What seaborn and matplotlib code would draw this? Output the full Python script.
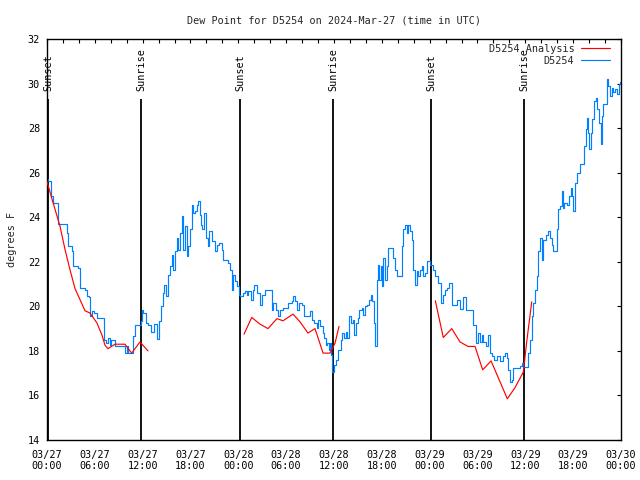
import matplotlib
matplotlib.use("Agg")
import numpy as np
import pandas as pd
import matplotlib.pyplot as plt
import matplotlib.dates as mdates
from matplotlib.lines import Line2D
import seaborn as sns

START = pd.Timestamp("2024-03-27 00:00")
END_HOURS = 72

blue_hours = [0.00, 0.16, 0.50, 0.72, 1.22, 1.42, 2.04, 2.47, 2.67, 3.10, 3.30, 3.93, 4.14, 4.77, 4.98,
              5.31, 5.39, 5.61, 5.93, 6.23, 6.86, 7.15, 7.36, 7.61, 7.90, 8.03, 8.32, 8.53, 9.37, 9.78,
              10.00, 10.20, 10.62, 10.83, 11.04, 11.58, 11.79, 11.92, 12.08, 12.42, 12.71, 13.01, 13.26,
              13.46, 13.76, 14.05, 14.30, 14.59, 14.71, 14.93, 15.14, 15.43, 15.64, 15.84, 16.06, 16.27,
              16.47, 16.68, 16.90, 17.10, 17.31, 17.52, 17.72, 17.94, 18.15, 18.35, 18.56, 18.78, 18.98,
              19.19, 19.32, 19.48, 19.73, 19.94, 20.16, 20.36, 20.66, 20.86, 21.07, 21.29, 21.61, 21.91,
              22.12, 22.74, 22.96, 23.17, 23.37, 23.58, 23.80, 24.12, 24.21, 24.55, 24.84, 25.13, 25.25,
              25.55, 25.80, 26.00, 26.30, 26.72, 27.01, 27.35, 27.97, 28.19, 28.39, 28.73, 29.01, 29.23,
              29.57, 30.07, 30.27, 30.70, 30.90, 31.11, 31.32, 31.61, 31.95, 32.24, 32.58, 32.99, 33.20,
              33.49, 33.83, 34.03, 34.25, 34.58, 34.78, 35.00, 35.16, 35.37, 35.50, 35.62, 35.79, 36.00,
              36.25, 36.54, 36.84, 37.04, 37.26, 37.47, 37.67, 37.88, 38.10, 38.35, 38.51, 38.76, 38.97,
              39.17, 39.48, 39.68, 39.89, 40.18, 40.43, 40.60, 40.81, 41.02, 41.18, 41.36, 41.52, 41.68,
              41.86, 42.02, 42.19, 42.40, 42.61, 42.81, 43.24, 43.44, 43.65, 43.87, 44.28, 44.49, 44.69,
              44.91, 45.12, 45.32, 45.53, 45.75, 45.95, 46.16, 46.37, 46.58, 46.79, 47.00, 47.20, 47.42,
              47.70, 48.04, 48.38, 48.67, 49.08, 49.38, 49.71, 49.92, 50.14, 50.46, 50.77, 51.39, 51.81,
              52.22, 52.56, 53.27, 53.48, 53.81, 54.10, 54.32, 54.53, 54.73, 55.07, 55.36, 55.57, 55.78,
              56.07, 56.41, 56.82, 57.24, 57.45, 57.66, 57.87, 58.08, 58.29, 58.49, 58.92, 59.33, 59.55,
              59.75, 60.17, 60.38, 60.59, 60.80, 61.00, 61.21, 61.43, 61.63, 61.84, 62.05, 62.26, 62.59,
              62.81, 63.10, 63.31, 63.51, 63.94, 64.14, 64.35, 64.56, 64.69, 64.89, 65.19, 65.48, 65.69,
              65.89, 66.02, 66.23, 66.44, 66.86, 67.15, 67.36, 67.57, 67.70, 67.82, 68.02, 68.20, 68.40,
              68.62, 68.83, 69.03, 69.24, 69.45, 69.58, 69.78, 69.99, 70.20, 70.41, 70.62, 70.83, 71.03,
              71.25, 71.46, 71.75, 71.88]
blue_vals = [25.70, 25.62, 24.95, 24.66, 24.66, 23.70, 23.70, 23.30, 22.70, 22.47, 21.80, 21.74, 20.84, 20.75, 20.45,
             20.43, 19.55, 19.77, 19.70, 19.48, 19.48, 18.50, 18.36, 18.58, 18.27, 18.50, 18.50, 18.23, 18.23, 17.90,
             18.20, 17.90, 17.90, 18.65, 19.17, 19.17, 19.32, 19.85, 19.70, 19.26, 19.17, 18.87, 18.87,
             19.20, 18.53, 19.32, 20.00, 20.60, 20.97, 20.45, 21.42, 21.80, 22.32, 21.65, 22.47, 23.07,
             22.55, 23.30, 24.05, 22.55, 23.60, 22.25, 22.70, 23.45, 24.57, 24.20, 24.27, 24.57, 24.72,
             24.12, 23.67, 23.45, 24.20, 23.07, 22.70, 23.37, 22.92, 22.92, 22.47, 22.77, 22.85, 22.55,
             22.10, 21.95, 21.65, 20.75, 21.42, 21.12, 20.90, 20.52, 20.45, 20.60, 20.67, 20.52, 20.67,
             20.30, 20.75, 20.97, 20.60, 20.07, 20.52, 20.75, 20.75, 19.85, 20.15, 19.85, 19.55, 19.85,
             19.92, 19.92, 20.15, 20.22, 20.45, 20.22, 19.85, 20.15, 20.07, 19.55, 19.55, 19.77, 19.40,
             19.25, 19.02, 19.40, 19.10, 18.80, 18.57, 18.27, 18.35, 18.05, 18.35, 17.82, 17.07, 17.37,
             17.60, 18.05, 18.50, 18.80, 18.57, 18.87, 18.57, 19.55, 19.25, 19.40, 18.72, 19.25, 19.47,
             19.85, 19.92, 19.62, 20.00, 20.07, 20.30, 20.52, 20.22, 19.25, 18.20, 21.20, 21.87, 21.20,
             21.80, 20.90, 22.17, 21.20, 21.80, 22.62, 22.62, 22.17, 21.65, 21.35, 21.35, 22.70, 23.45,
             23.67, 23.30, 23.67, 23.37, 23.00, 21.65, 20.97, 21.57, 21.35, 21.65, 21.80, 21.35, 21.50,
             22.02, 21.87, 21.65, 21.35, 21.05, 20.15, 20.52, 20.75, 20.82, 21.05, 20.07, 20.30, 19.90,
             20.40, 19.85, 19.85, 19.17, 18.35, 18.80, 18.42, 18.72, 18.42, 18.20, 18.72, 17.90, 17.75,
             17.60, 17.75, 17.55, 17.75, 17.90, 17.67, 17.15, 16.62, 16.70, 17.22, 17.22, 17.30, 17.45,
             17.27, 17.27, 17.90, 18.50, 19.55, 20.15, 20.75, 21.35, 22.47, 23.07, 22.10, 23.00, 23.22,
             23.37, 23.07, 22.77, 22.47, 23.45, 24.35, 24.50, 25.17, 24.42, 24.65, 24.57, 24.95, 25.32,
             24.95, 24.27, 25.55, 26.00, 26.37, 26.37, 27.20, 27.95, 28.47, 27.80, 27.05, 27.80, 28.40,
             29.22, 29.37, 28.85, 28.25, 27.27, 28.55, 29.07, 29.07, 30.20, 29.90, 29.45, 29.82, 29.60,
             29.75, 29.52, 29.97, 30.05]

red_hours = [0.00, 0.72, 1.63, 2.26, 2.88, 3.51, 4.14, 4.77, 5.39, 6.27, 6.90, 7.28, 7.65, 8.53, 9.78,
             10.62, 11.66, 12.67,
             24.71, 25.68, 26.72, 27.72, 28.85, 29.60, 30.86, 31.74, 32.74, 33.62, 34.63, 35.50, 36.13, 36.63,
             48.71, 49.71, 50.77, 51.81, 52.81, 53.69, 54.65, 55.70, 57.74, 58.70, 59.75, 60.17, 60.80]
red_vals = [25.60, 24.70, 23.60, 22.55, 21.65, 20.80, 20.30, 19.80, 19.70, 19.25, 18.70, 18.25, 18.10, 18.30, 18.30,
            17.90, 18.40, 18.00,
            18.75, 19.50, 19.20, 19.00, 19.45, 19.35, 19.65, 19.30, 18.80, 19.00, 17.90, 17.90, 18.35, 19.10,
            20.25, 18.60, 19.00, 18.40, 18.20, 18.20, 17.15, 17.55, 15.85, 16.35, 17.05, 18.40, 20.20]
red_segment = [1] * 18 + [2] * 14 + [3] * 13

sun_hours = [0.15, 11.79, 24.21, 35.88, 48.17, 59.83]
sun_labels = ["Sunset", "Sunrise", "Sunset", "Sunrise", "Sunset", "Sunrise"]

title = "Dew Point for D5254 on 2024-Mar-27 (time in UTC)"
ylabel = "degrees F"
legend_labels = ["D5254 Analysis", "D5254"]
y_ticks = list(range(14, 33, 2))

RED = "#ff0000"
BLUE = "#0080ff"
FONT = ["DejaVu Sans Mono", "DejaVu Sans"]
FS = 7.3

sns.set_theme(style="white")
plt.rcParams["font.family"] = FONT
plt.rcParams["font.size"] = FS

blue_df = pd.DataFrame({"time": START + pd.to_timedelta(blue_hours, unit="h"), "value": blue_vals})
red_df = pd.DataFrame({"time": START + pd.to_timedelta(red_hours, unit="h"), "value": red_vals,
                       "seg": red_segment})

fig = plt.figure(figsize=(6.4, 4.8), dpi=100)
ax = fig.add_axes([47 / 640, 40 / 480, 574 / 640, 401 / 480])

sns.lineplot(data=red_df, x="time", y="value", units="seg", estimator=None, color=RED,
             linewidth=0.85, ax=ax, legend=False, zorder=3)
sns.lineplot(data=blue_df, x="time", y="value", color=BLUE, linewidth=0.85, ax=ax,
             legend=False, drawstyle="steps-post", zorder=2)

sun_times = START + pd.to_timedelta(sun_hours, unit="h")
ax.vlines(sun_times, 14, 29.3, color="black", linewidth=1.3, zorder=1)
for t, lab in zip(sun_times, sun_labels):
    ax.text(t, 29.65, lab, rotation=90, ha="center", va="bottom", fontsize=FS, color="black")

ax.set_xlim(START, START + pd.Timedelta(hours=END_HOURS))
ax.set_ylim(14, 32)
ax.set_yticks(y_ticks)
ax.xaxis.set_major_locator(mdates.HourLocator(byhour=[0, 6, 12, 18]))
ax.xaxis.set_minor_locator(mdates.HourLocator(byhour=list(range(0, 24, 2))))
ax.xaxis.set_major_formatter(mdates.DateFormatter("%m/%d\n%H:%M"))

ax.tick_params(axis="both", which="both", direction="in", length=3, width=0.8, color="black",
               top=True, right=True, labelsize=FS, labelcolor="black")
ax.tick_params(axis="x", which="major", pad=7)
ax.tick_params(axis="y", which="major", pad=5)
for sp in ax.spines.values():
    sp.set_color("black")
    sp.set_linewidth(1.0)

ax.set_xlabel("")
ax.set_ylabel(ylabel, fontsize=FS, labelpad=8)
ax.set_title(title, fontsize=FS, pad=11)

handles = [Line2D([], [], color=RED, linewidth=0.85), Line2D([], [], color=BLUE, linewidth=0.85)]
ax.legend(handles, legend_labels, loc="upper right", bbox_to_anchor=(0.984, 0.993),
          markerfirst=False, frameon=False, fontsize=FS, handlelength=2.8, handletextpad=0.7,
          labelspacing=0.2, borderaxespad=0.0, borderpad=0.2)

fig.savefig("out.png", dpi=100)
